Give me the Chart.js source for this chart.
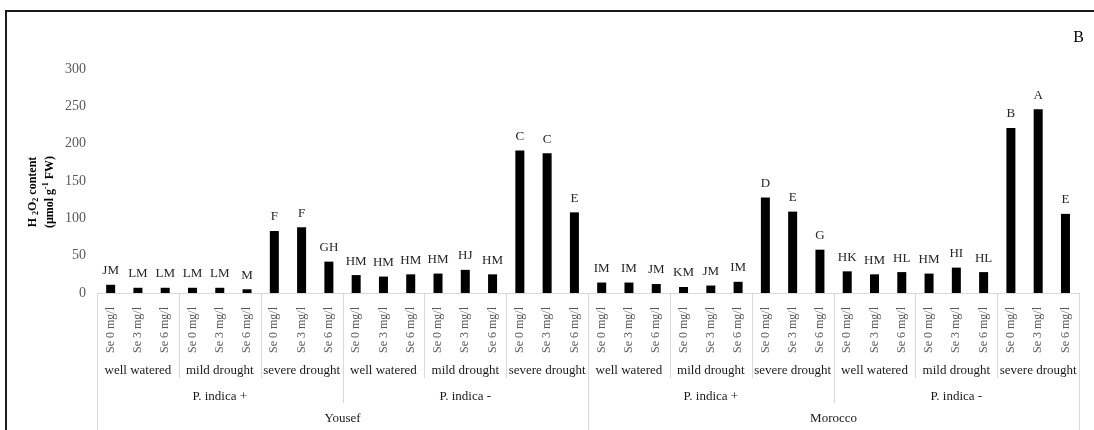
<!DOCTYPE html>
<html>
<head>
<meta charset="utf-8">
<script src="https://cdn.jsdelivr.net/npm/chart.js@4"></script>
<style>
  body { margin: 0; background: #fff; }
  #wrap { width: 1094px; height: 430px; }
</style>
</head>
<body>
<div id="wrap"><canvas id="myChart" width="1094" height="430"></canvas></div>
<script>
// axis levels, inner to outer
const seLevels = ['Se 0 mg/l', 'Se 3 mg/l', 'Se 6 mg/l'];
const waterRegimes = ['well watered', 'mild drought', 'severe drought'];
const inoculation = ['P. indica +', 'P. indica -'];
const cultivars = ['Yousef', 'Morocco'];

// H2O2 content (umol g-1 FW), 36 bars in axis order
const h2o2Values = [
  11, 7, 7, 7, 7, 5, 83, 88, 42,
  24, 22, 25, 26, 31, 25, 191, 187, 108,
  14, 14, 12, 8, 10, 15, 128, 109, 58,
  29, 25, 28, 26, 34, 28, 221, 246, 106
];
// letters from the mean comparison
const sigLetters = [
  'JM', 'LM', 'LM', 'LM', 'LM', 'M', 'F', 'F', 'GH',
  'HM', 'HM', 'HM', 'HM', 'HJ', 'HM', 'C', 'C', 'E',
  'IM', 'IM', 'JM', 'KM', 'JM', 'IM', 'D', 'E', 'G',
  'HK', 'HM', 'HL', 'HM', 'HI', 'HL', 'B', 'A', 'E'
];
const yTicks = [0, 50, 100, 150, 200, 250, 300];

const serif = '"Liberation Serif", "Times New Roman", serif';

// flat tick labels (innermost level only)
let seLabels = [];
cultivars.forEach(() => inoculation.forEach(() => waterRegimes.forEach(() => seLevels.forEach(s => seLabels.push(s)))));

// write text made of pieces (normal / sub / sup), centred on 0
function richText(ctx, parts, y) {
  ctx.textAlign = 'left';
  let total = 0;
  parts.forEach(p => { ctx.font = p.font; total += ctx.measureText(p.t).width; });
  let x = -total / 2;
  parts.forEach(p => {
    ctx.font = p.font;
    ctx.fillText(p.t, x, y + (p.dy || 0));
    x += ctx.measureText(p.t).width;
  });
}

const extras = {
  id: 'extras',
  afterDraw(chart) {
    const ctx = chart.ctx;
    const xs = chart.scales.x;
    const area = chart.chartArea;
    const meta = chart.getDatasetMeta(0);
    ctx.save();

    // letters above bars
    ctx.fillStyle = '#262626';
    ctx.font = '13px ' + serif;
    ctx.textAlign = 'center';
    ctx.textBaseline = 'middle';
    meta.data.forEach((bar, i) => {
      ctx.fillText(sigLetters[i], bar.x, bar.y - 14);
    });

    // group dividers below the axis
    const n = seLabels.length;
    const edge = i => {
      if (i === 0) return area.left;
      if (i === n) return area.right;
      return (xs.getPixelForValue(i - 1) + xs.getPixelForValue(i)) / 2;
    };
    ctx.strokeStyle = '#d9d9d9';
    ctx.lineWidth = 1;
    for (let i = 0; i <= n; i += 3) {
      let bottom = 378;
      if (i % 9 === 0) bottom = 403;
      if (i % 18 === 0) bottom = 430;
      const x = Math.round(edge(i)) + 0.5;
      ctx.beginPath();
      ctx.moveTo(x, area.bottom);
      ctx.lineTo(x, bottom);
      ctx.stroke();
    }

    // group labels
    ctx.fillStyle = '#1a1a1a';
    ctx.font = '13px ' + serif;
    let k = 0;
    cultivars.forEach((c, ci) => {
      inoculation.forEach((p, pi) => {
        waterRegimes.forEach(w => {
          ctx.fillText(w, (edge(k) + edge(k + 3)) / 2, 371);
          k += 3;
        });
        const s = ci * 18 + pi * 9;
        ctx.fillText(p, (edge(s) + edge(s + 9)) / 2, 397);
      });
      ctx.fillText(c, (edge(ci * 18) + edge(ci * 18 + 18)) / 2, 419);
    });

    // y axis title
    ctx.fillStyle = '#000';
    ctx.save();
    ctx.translate(33, 192);
    ctx.rotate(-Math.PI / 2);
    const b = 'bold 12px ' + serif;
    const bs = 'bold 8px ' + serif;
    richText(ctx, [
      { t: 'H ', font: b }, { t: '2', font: bs, dy: 3 }, { t: 'O', font: b },
      { t: '2', font: bs, dy: 3 }, { t: ' content', font: b }
    ], 0);
    richText(ctx, [
      { t: '(µmol g', font: b }, { t: '-1', font: bs, dy: -4 }, { t: ' FW)', font: b }
    ], 17);
    ctx.restore();

    // panel letter
    ctx.font = '16px ' + serif;
    ctx.textAlign = 'right';
    ctx.fillText('B', 1084, 38);

    // frame
    ctx.strokeStyle = '#1a1a1a';
    ctx.lineWidth = 2;
    ctx.beginPath();
    ctx.moveTo(6, 430);
    ctx.lineTo(6, 11);
    ctx.lineTo(1094, 11);
    ctx.stroke();
    ctx.restore();
  }
};

const myChart = new Chart(document.getElementById('myChart').getContext('2d'), {
  type: 'bar',
  data: {
    labels: seLabels,
    datasets: [{
      data: h2o2Values,
      backgroundColor: '#000',
      barPercentage: 0.33,
      categoryPercentage: 1
    }]
  },
  options: {
    responsive: false,
    animation: false,
    layout: { padding: { top: 69, right: 10, left: 0, bottom: 0 } },
    plugins: { legend: { display: false }, tooltip: { enabled: false } },
    scales: {
      x: {
        grid: { display: false, drawTicks: false },
        border: { display: true, color: '#d9d9d9' },
        ticks: {
          autoSkip: false,
          minRotation: 90,
          maxRotation: 90,
          padding: 14,
          color: '#595959',
          font: { family: serif, size: 12 }
        },
        afterFit(scale) { scale.height = 137; }
      },
      y: {
        min: 0,
        max: 300,
        grid: { display: false, drawTicks: false },
        border: { display: false },
        afterBuildTicks(scale) { scale.ticks = yTicks.map(v => ({ value: v })); },
        ticks: {
          padding: 11,
          color: '#595959',
          font: { family: serif, size: 14 }
        },
        afterFit(scale) { scale.width = 97; }
      }
    }
  },
  plugins: [extras]
});
</script>
</body>
</html>
